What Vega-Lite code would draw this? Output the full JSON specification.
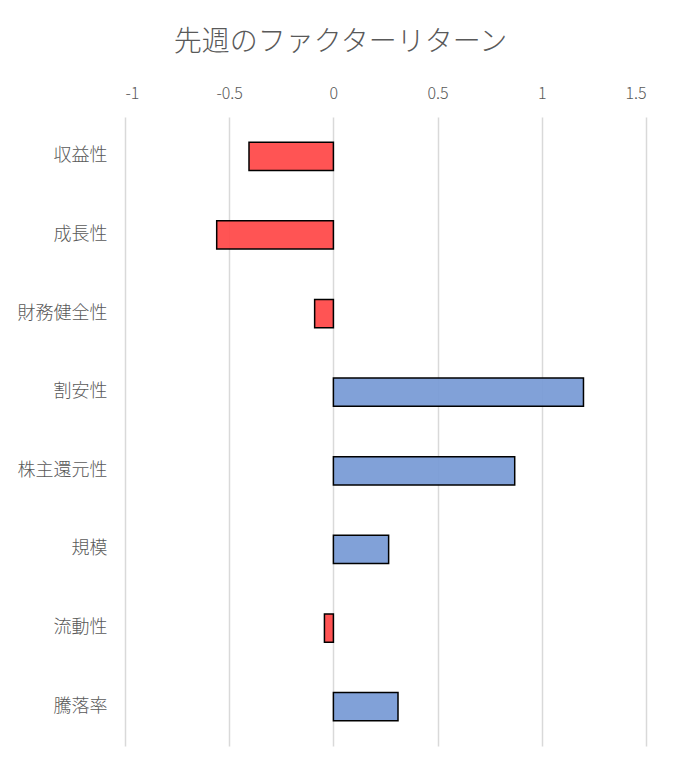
{
  "$schema": "https://vega.github.io/schema/vega-lite/v6.json",
  "autosize": "none",
  "width": 521,
  "height": 629,
  "padding": {"left": 125, "top": 117, "right": 36, "bottom": 25},
  "background": "white",
  "title": {
    "text": "先週のファクターリターン",
    "anchor": "middle",
    "dx": -45,
    "offset": 28,
    "fontSize": 28,
    "font": "Noto Sans CJK JP",
    "fontWeight": 300,
    "color": "#595959"
  },
  "data": {
    "values": [
      {"factor": "収益性", "value": -0.405},
      {"factor": "成長性", "value": -0.56},
      {"factor": "財務健全性", "value": -0.09},
      {"factor": "割安性", "value": 1.2},
      {"factor": "株主還元性", "value": 0.87},
      {"factor": "規模", "value": 0.265},
      {"factor": "流動性", "value": -0.043},
      {"factor": "騰落率", "value": 0.31}
    ]
  },
  "mark": {"type": "bar", "stroke": "black", "strokeWidth": 1.5, "fillOpacity": 0.95},
  "encoding": {
    "y": {
      "field": "factor",
      "type": "nominal",
      "sort": null,
      "scale": {"paddingInner": 0.64, "paddingOuter": 0.32},
      "axis": {
        "title": null,
        "domain": false,
        "ticks": false,
        "labelPadding": 18,
        "labelFontSize": 18,
        "labelFont": "Noto Sans CJK JP",
        "labelFontWeight": 300,
        "labelColor": "#595959"
      }
    },
    "x": {
      "field": "value",
      "type": "quantitative",
      "scale": {"domain": [-1, 1.5], "nice": false, "zero": true},
      "axis": {
        "orient": "top",
        "title": null,
        "values": [-1, -0.5, 0, 0.5, 1, 1.5],
        "labelExpr": "'' + datum.value",
        "domain": false,
        "ticks": false,
        "labelPadding": 16,
        "labelFontSize": 16,
        "labelFont": "Noto Sans CJK JP",
        "labelFontWeight": 300,
        "labelColor": "#595959",
        "gridColor": "#d9d9d9",
        "gridWidth": 1.5
      }
    },
    "color": {
      "condition": {"test": "datum.value < 0", "value": "#ff4b4b"},
      "value": "#7a9cd6"
    }
  },
  "config": {"view": {"stroke": null}}
}
